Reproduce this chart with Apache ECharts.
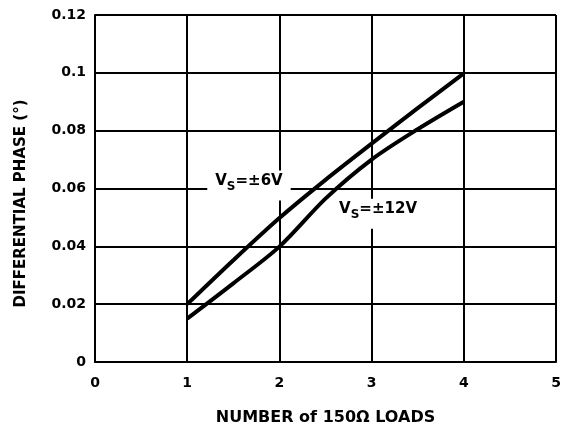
<!DOCTYPE html>
<html><head><meta charset="utf-8">
<script src="https://cdn.jsdelivr.net/npm/echarts@6/dist/echarts.min.js"></script>
<style>html,body{margin:0;padding:0;background:#fff;}#c{width:569px;height:431px;}</style>
</head><body><div id="c"></div>
<script>
const xTicks = [0, 1, 2, 3, 4, 5];
const yTicks = [0, 0.02, 0.04, 0.06, 0.08, 0.1, 0.12];
const loads6 = [1, 1.5, 2, 2.5, 3, 3.5, 4];
const phase6 = [0.020, 0.0352, 0.0498, 0.0630, 0.0755, 0.0878, 0.0998];
const loads12 = [1, 1.5, 2, 2.5, 3, 3.5, 4];
const phase12 = [0.0150, 0.0272, 0.0399, 0.0565, 0.0700, 0.0805, 0.0900];
const labelPos = [[1.67, 0.0610], [3.07, 0.0513]];
const labelText = ['6V', '12V'];

const font = '"DejaVu Sans", sans-serif';
const chart = echarts.init(document.getElementById('c'), null, {renderer: 'canvas'});
chart.setOption({
  animation: false,
  grid: {left: 95, right: 13, top: 15, bottom: 69},
  xAxis: {
    type: 'value', min: 0, max: 5, interval: 1,
    name: 'NUMBER of 150Ω LOADS', nameLocation: 'middle', nameGap: 48,
    nameTextStyle: {fontFamily: font, fontWeight: 'bold', fontSize: 16, color: '#000'},
    axisLine: {show: true, lineStyle: {color: '#000', width: 2}},
    axisTick: {show: false},
    axisLabel: {fontFamily: font, fontWeight: 'bold', fontSize: 14, color: '#000', margin: 14},
    splitLine: {show: true, lineStyle: {color: '#000', width: 2}}
  },
  yAxis: {
    type: 'value', min: 0, max: 0.12, interval: 0.02,
    name: 'DIFFERENTIAL PHASE (°)', nameLocation: 'middle', nameGap: 66,
    nameTextStyle: {fontFamily: font, fontWeight: 'bold', fontSize: 15, color: '#000', padding: [0, 30, 0, 0]},
    axisLine: {show: true, lineStyle: {color: '#000', width: 2}},
    axisTick: {show: false},
    axisLabel: {fontFamily: font, fontWeight: 'bold', fontSize: 14, color: '#000', margin: 9,
      formatter: v => String(+v.toFixed(2))},
    splitLine: {show: true, lineStyle: {color: '#000', width: 2}}
  },
  series: [
    {type: 'line', data: loads6.map((x, i) => [x, phase6[i]]), smooth: 0.3, symbol: 'none',
      lineStyle: {color: '#000', width: 4}, z: 3},
    {type: 'line', data: loads12.map((x, i) => [x, phase12[i]]), smooth: 0.3, symbol: 'none',
      lineStyle: {color: '#000', width: 4}, z: 3}
  ]
});
const rich = {
  v: {fill: '#000', fontFamily: font, fontWeight: 'bold', fontSize: 15, verticalAlign: 'top', lineHeight: 16},
  s: {fill: '#000', fontFamily: font, fontWeight: 'bold', fontSize: 12, verticalAlign: 'middle', lineHeight: 26}
};
chart.setOption({
  graphic: labelPos.map((p, i) => {
    const px = chart.convertToPixel({gridIndex: 0}, p);
    return {
      type: 'text', x: px[0], y: px[1], z: 100,
      style: {
        text: '{v|V}{s|S}{v|=±' + labelText[i] + '}', rich: rich,
        align: 'center', verticalAlign: 'middle',
        backgroundColor: '#fff', padding: [3, 8, 1, 8], fill: '#000'
      }
    };
  })
});
</script></body></html>
